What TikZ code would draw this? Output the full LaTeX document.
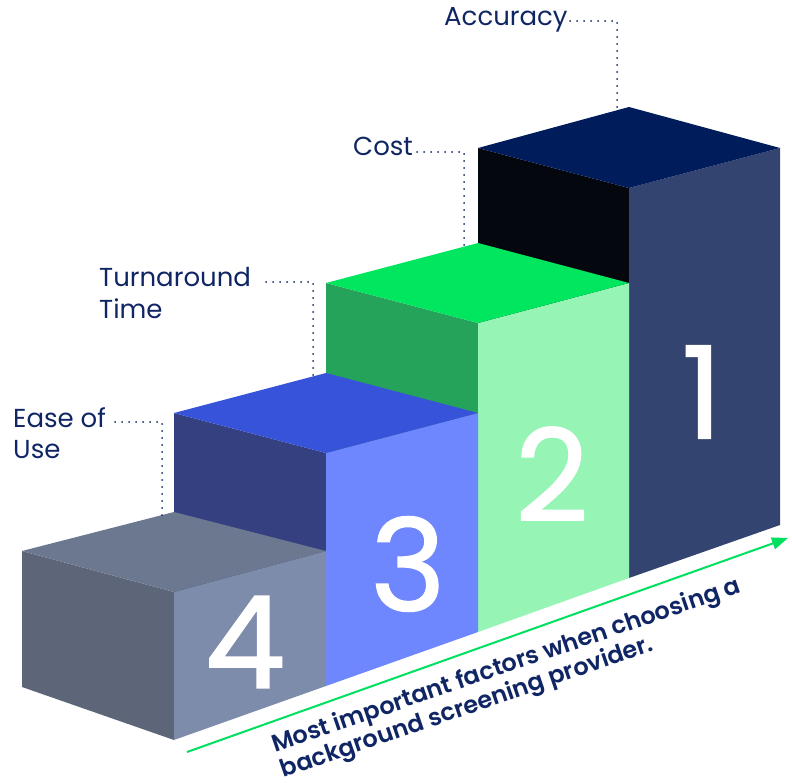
\documentclass[tikz,border=0pt]{standalone}
\usepackage{fontspec}
\setmainfont{Poppins}
\newfontfamily\digitfont[FakeBold=1.2]{Poppins}
\newfontfamily\capfont{Poppins SemiBold}
\usetikzlibrary{arrows.meta,calc}
\definecolor{navy}{RGB}{16,38,100}
\definecolor{oneT}{RGB}{0,28,90}
\definecolor{oneL}{RGB}{4,8,14}
\definecolor{oneR}{RGB}{52,68,112}
\definecolor{twoT}{RGB}{0,230,95}
\definecolor{twoL}{RGB}{38,163,90}
\definecolor{twoR}{RGB}{150,244,181}
\definecolor{thrT}{RGB}{54,83,217}
\definecolor{thrL}{RGB}{52,64,128}
\definecolor{thrR}{RGB}{110,135,255}
\definecolor{fouT}{RGB}{108,120,144}
\definecolor{fouL}{RGB}{93,101,121}
\definecolor{fouR}{RGB}{126,140,171}
\definecolor{arrowgreen}{RGB}{0,224,96}
\tikzset{
  lbl/.style={anchor=base west, inner sep=0pt, text=navy, font=\fontsize{26}{30}\selectfont},
  digit/.style={text=white, inner sep=0pt, font=\digitfont\fontsize{128}{130}\selectfont},
  dotline/.style={navy, line width=2pt, line cap=round, dash pattern=on 0pt off 7pt},
  caption/.style={anchor=base west, inner sep=0pt, text=navy, rotate=19, font=\capfont\fontsize{24}{26}\selectfont},
}
\begin{document}
\begin{tikzpicture}[x=1pt,y=-1pt]
\useasboundingbox (0,0) rectangle (792,783);
% box 1
\fill[oneL] (478,148) -- (629,188) -- (629,578) -- (478,540) -- cycle;
\fill[oneR] (629,188) -- (780,148) -- (780,525) -- (629,578) -- cycle;
\fill[oneT] (478,148) -- (629,107) -- (780,148) -- (629,188) -- cycle;
% box 2
\fill[twoL] (326,283) -- (478,323) -- (478,632) -- (326,600) -- cycle;
\fill[twoR] (478,323) -- (629,283) -- (629,578) -- (478,632) -- cycle;
\fill[twoT] (326,283) -- (478,243) -- (629,283) -- (478,323) -- cycle;
% box 3
\fill[thrL] (174,413) -- (326,453) -- (326,686) -- (174,640) -- cycle;
\fill[thrR] (326,453) -- (478,413) -- (478,632) -- (326,686) -- cycle;
\fill[thrT] (174,413) -- (326,373) -- (478,413) -- (326,453) -- cycle;
% box 4
\fill[fouL] (22,551) -- (174,592) -- (174,740) -- (22,687) -- cycle;
\fill[fouR] (174,592) -- (326,551) -- (326,686) -- (174,740) -- cycle;
\fill[fouT] (22,551) -- (174,512) -- (326,551) -- (174,592) -- cycle;
% digits
\node[digit] (d1) at (702,392) {1};
\node[digit] (d2) at (552,474) {2};
\node[digit] (d3) at (408,564) {3};
\node[digit] (d4) at (245,642) {4};
% labels
\node[lbl] (acc) at (444,26) {Accuracy};
\node[lbl] (cost) at (353,156) {Cost};
\node[lbl] (turn) at (99,287) {Turnaround};
\node[lbl] (time) at (99,319) {Time};
\node[lbl] (ease) at (13,427) {Ease of};
\node[lbl] (use) at (13,458) {Use};
% connector ends
\coordinate (accS) at (570,21);
\coordinate (accE) at (617,110);
\coordinate (costS) at (417,152);
\coordinate (costE) at (464,247);
\coordinate (turnS) at (266,282);
\coordinate (turnE) at (313,377);
\coordinate (easeS) at (115,422);
\coordinate (easeE) at (162,518);
\draw[dotline] (accS) -| (accE);
\draw[dotline] (costS) -| (costE);
\draw[dotline] (turnS) -| (turnE);
\draw[dotline] (easeS) -| (easeE);
% arrow
\coordinate (aS) at (187,752);
\coordinate (aE) at (788,538);
\draw[arrowgreen, line width=2pt, -{Triangle[length=16pt,width=12pt]}] (aS) -- (aE);
% caption
\node[caption] (cap1) at (275,753) {Most important factors when choosing a};
\node[caption] (cap2) at (283.5,778) {background screening provider.};
\end{tikzpicture}
\end{document}
